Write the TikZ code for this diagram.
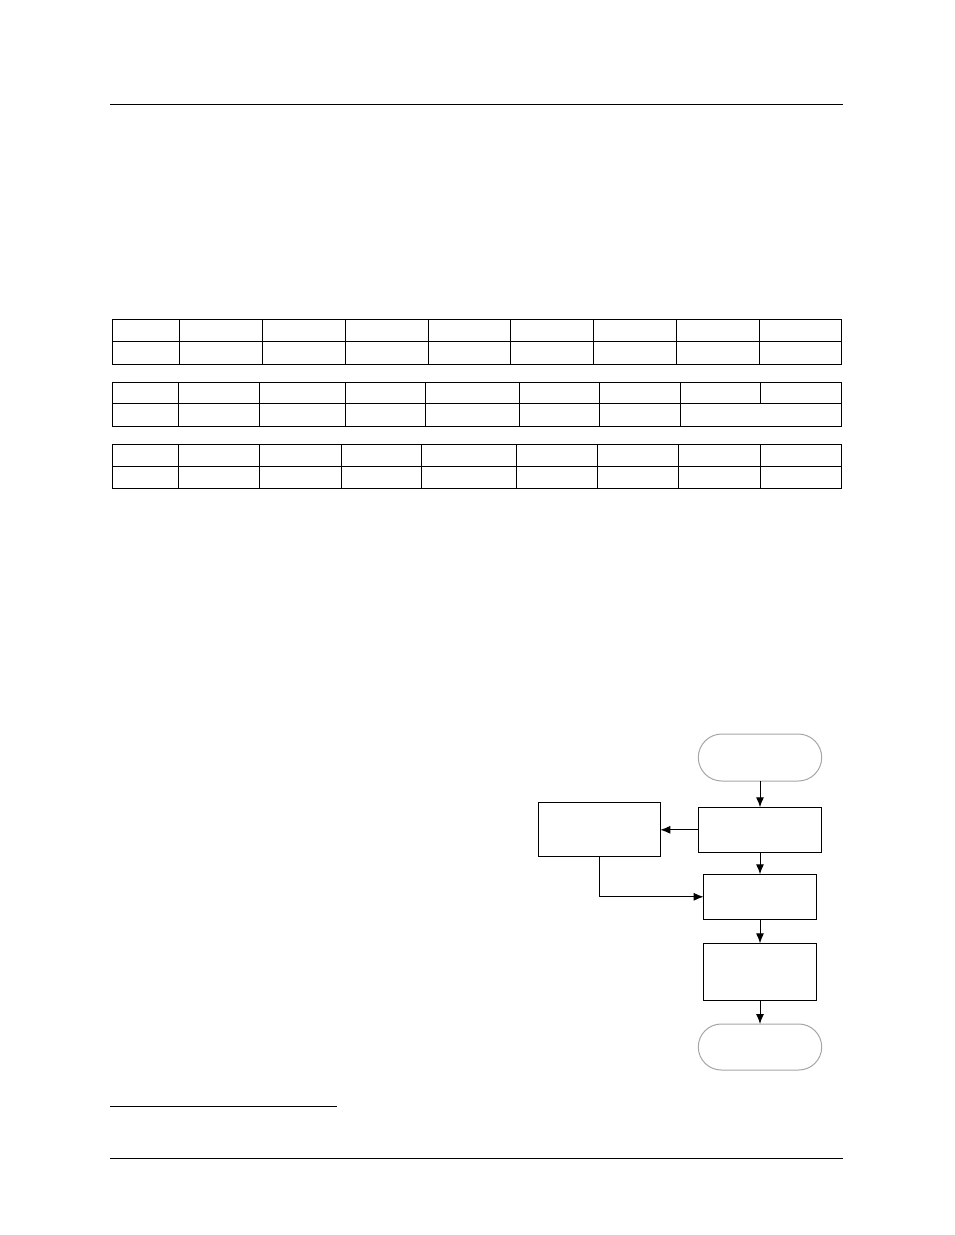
\documentclass[tikz,border=0pt]{standalone}
\usetikzlibrary{arrows.meta,shapes.misc}
\begin{document}
\begin{tikzpicture}[x=1pt,y=-1pt,
  rule/.style={line width=0.9pt},
  grid/.style={line width=1pt},
  proc/.style={draw,line width=1pt,rectangle,inner sep=0pt,outer sep=0pt},
  term/.style={draw=gray!70,line width=1pt,rounded rectangle,inner sep=0pt,outer sep=0pt,minimum width=123.4pt},
  flow/.style={line width=1pt,-{Latex[length=10pt,width=8pt]}}]
\fill[white] (0,0) rectangle (954,1235);
\useasboundingbox (0,0) rectangle (954,1235);
% page rules
\draw[rule] (110,104) -- (843,104);
\draw[rule] (110,1158) -- (843,1158);
\draw[rule] (110,1106) -- (337,1106);
% table 1
\draw[grid] (112,319.3) rectangle (841.3,364);
\draw[grid] (112,341.3) -- (841.3,341.3);
\foreach \c in {179.3,262.3,345.3,428.3,510.3,593.3,676.3,759.3}
  \draw[grid] (\c,319.3) -- (\c,364);
% table 2
\draw[grid] (112,382) rectangle (841.3,426.3);
\draw[grid] (112,403.3) -- (841.3,403.3);
\foreach \c in {178.3,259.3,345.3,425.3,519.3,599.3,680.3}
  \draw[grid] (\c,382) -- (\c,426.3);
\draw[grid] (760.7,382) -- (760.7,403.3);
% table 3
\draw[grid] (112,444.3) rectangle (841.3,488.3);
\draw[grid] (112,466) -- (841.3,466);
\foreach \c in {178.3,259.3,341.3,421.3,516,597.3,678.3,760.3}
  \draw[grid] (\c,444.3) -- (\c,488.3);
% flowchart
\node[term,minimum height=47pt] (start) at (760,757.5) {};
\node[proc,minimum width=123.4pt,minimum height=45pt] (p1) at (760,829.8) {};
\node[proc,minimum width=122pt,minimum height=54pt] (side) at (599.3,829.8) {};
\node[proc,minimum width=112.7pt,minimum height=45pt] (p2) at (760,896.8) {};
\node[proc,minimum width=112.3pt,minimum height=56.7pt] (p3) at (760,971.7) {};
\node[term,minimum height=46pt] (stop) at (760,1047) {};
\draw[flow] (start.south) -- (p1.north);
\draw[flow] (p1.west) -- (side.east);
\draw[flow] (p1.south) -- (p2.north);
\draw[flow] (side.south) |- (p2.west);
\draw[flow] (p2.south) -- (p3.north);
\draw[flow] (p3.south) -- (stop.north);
\end{tikzpicture}
\end{document}
